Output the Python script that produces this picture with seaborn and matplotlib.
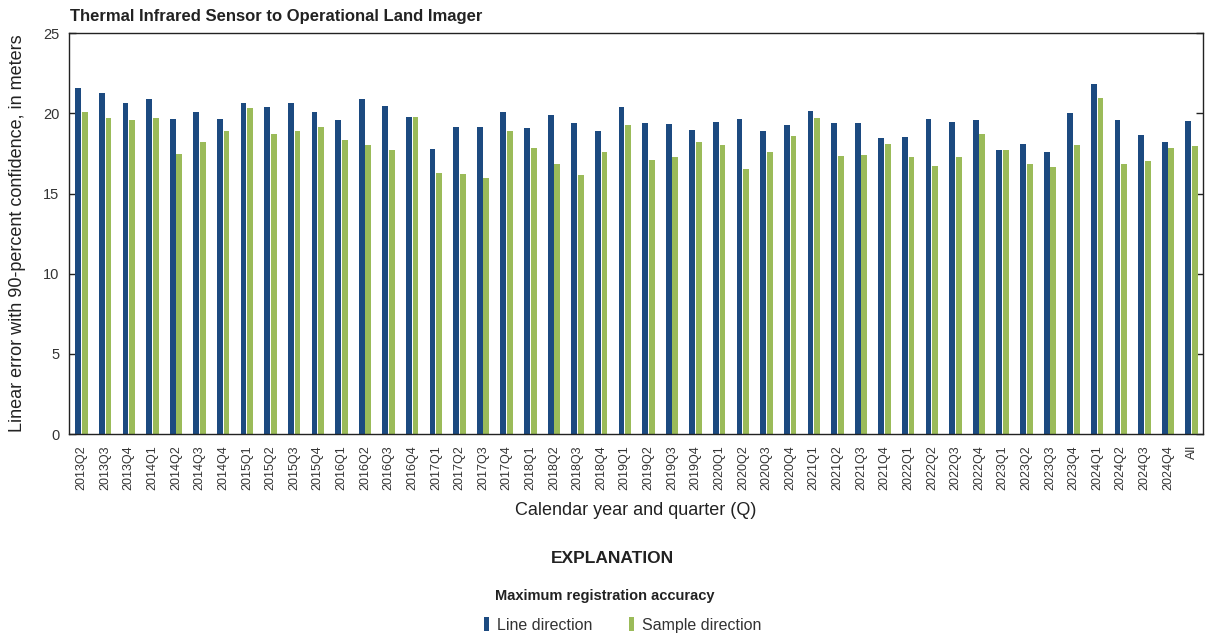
import matplotlib
matplotlib.use("Agg")
import matplotlib.pyplot as plt
import pandas as pd
import seaborn as sns

quarters = ["2013Q2", "2013Q3", "2013Q4",
            "2014Q1", "2014Q2", "2014Q3", "2014Q4",
            "2015Q1", "2015Q2", "2015Q3", "2015Q4",
            "2016Q1", "2016Q2", "2016Q3", "2016Q4",
            "2017Q1", "2017Q2", "2017Q3", "2017Q4",
            "2018Q1", "2018Q2", "2018Q3", "2018Q4",
            "2019Q1", "2019Q2", "2019Q3", "2019Q4",
            "2020Q1", "2020Q2", "2020Q3", "2020Q4",
            "2021Q1", "2021Q2", "2021Q3", "2021Q4",
            "2022Q1", "2022Q2", "2022Q3", "2022Q4",
            "2023Q1", "2023Q2", "2023Q3", "2023Q4",
            "2024Q1", "2024Q2", "2024Q3", "2024Q4",
            "All"]

line_dir = [21.58, 21.29, 20.64,
            20.89, 19.64, 20.12, 19.66,
            20.64, 20.41, 20.68, 20.12,
            19.56, 20.87, 20.46, 19.75,
            17.75, 19.14, 19.14, 20.12,
            19.10, 19.89, 19.39, 18.92,
            20.39, 19.39, 19.33, 18.96,
            19.48, 19.66, 18.92, 19.27,
            20.14, 19.39, 19.39, 18.44,
            18.52, 19.64, 19.46, 19.60,
            17.71, 18.10, 17.58, 20.04,
            21.81, 19.56, 18.64, 18.19,
            19.52]

sample_dir = [20.12, 19.69, 19.58,
              19.71, 17.46, 18.21, 18.89,
              20.33, 18.73, 18.89, 19.14,
              18.33, 18.06, 17.71, 19.77,
              16.29, 16.21, 16.00, 18.89,
              17.87, 16.85, 16.14, 17.62,
              19.27, 17.12, 17.31, 18.19,
              18.06, 16.56, 17.58, 18.58,
              19.69, 17.33, 17.39, 18.08,
              17.31, 16.73, 17.31, 18.71,
              17.69, 16.85, 16.67, 18.06,
              20.98, 16.85, 17.06, 17.83,
              17.96]

series_names = ["Line direction", "Sample direction"]
colors = ["#1c4a80", "#9bbb59"]

df = pd.DataFrame({"quarter": quarters * 2,
                   "value": line_dir + sample_dir,
                   "direction": [series_names[0]] * len(quarters) + [series_names[1]] * len(quarters)})

sns.set_style("white")
plt.rcParams['font.family'] = ['Liberation Sans', 'DejaVu Sans']

fig = plt.figure(figsize=(12.05, 6.39), dpi=100)
ax = fig.add_axes([0.0573, 0.3208, 0.9410, 0.6271])

sns.barplot(data=df, x="quarter", y="value", hue="direction",
            palette=colors, saturation=1, width=0.56, gap=0.12, ax=ax,
            edgecolor="none", legend=True)

ax.set_xlim(-0.53, len(quarters) - 0.52)
ax.set_ylim(0, 25)
ax.set_yticks([0, 5, 10, 15, 20, 25])
ax.tick_params(axis="y", direction="in", length=5, width=1, color="#222222",
               labelsize=10.5, right=True, left=True, labelcolor="#333333", pad=7)
ax.tick_params(axis="x", length=0, labelsize=9, labelrotation=90, labelcolor="#333333", pad=8)
for s in ax.spines.values():
    s.set_color("#222222")
    s.set_linewidth(1.0)

ax.set_xlabel("Calendar year and quarter (Q)", fontsize=13, color="#222222", labelpad=9)
ax.set_ylabel("Linear error with 90-percent confidence, in meters", fontsize=13,
              color="#222222", labelpad=12)

fig.text(0.058, 0.974, "Thermal Infrared Sensor to Operational Land Imager",
         fontsize=12, fontweight="bold", color="#222222", va="center", ha="left")

handles, labels = ax.get_legend_handles_labels()
ax.get_legend().remove()

fig.text(0.508, 0.126, "EXPLANATION", fontsize=12.5, fontweight="bold",
         color="#222222", ha="center", va="center")
fig.text(0.502, 0.068, "Maximum registration accuracy", fontsize=10.5, fontweight="bold",
         color="#222222", ha="center", va="center")
fig.legend(handles, labels, loc="center", bbox_to_anchor=(0.517, 0.022), ncol=2,
           frameon=False, fontsize=11.5, handlelength=0.3, handleheight=0.9,
           handletextpad=0.5, columnspacing=2.3, labelcolor="#333333")

fig.savefig("out.png", dpi=100)
